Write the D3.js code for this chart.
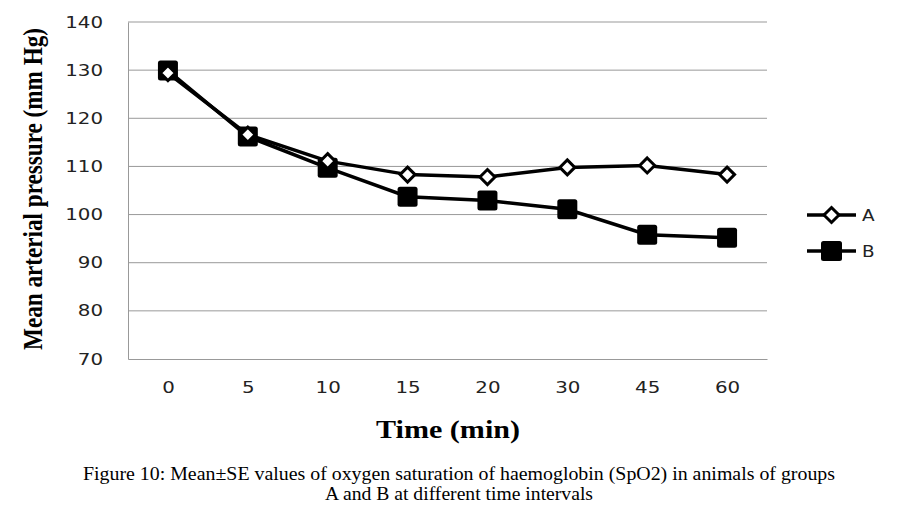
<!DOCTYPE html>
<html>
<head>
<meta charset="utf-8">
<script src="https://d3js.org/d3.v7.min.js"></script>
<style>
  body { margin: 0; background: #fff; }
  svg { display: block; }
</style>
</head>
<body>
<svg width="902" height="524"></svg>
<script>
// time points (min) and group means
var times = ["0", "5", "10", "15", "20", "30", "45", "60"];
var groupA = [129.4, 116.6, 111.1, 108.3, 107.8, 109.8, 110.2, 108.3];
var groupB = [129.9, 116.2, 109.7, 103.7, 102.9, 101.1, 95.8, 95.2];
var yTicks = [70, 80, 90, 100, 110, 120, 130, 140];

var svg = d3.select("svg"),
    margin = {left: 128, right: 135, top: 22, bottom: 165},
    width = 902 - margin.left - margin.right,
    height = 524 - margin.top - margin.bottom,
    g = svg.append("g").attr("transform", "translate(" + margin.left + "," + margin.top + ")");

var x = d3.scalePoint().domain(times).range([0, width]).padding(0.5);
var y = d3.scaleLinear().domain([70, 140]).range([height, 0]);

// the labels in the picture are a bit stretched sideways
function wideText(sel) {
  sel.attr("font-family", "DejaVu Sans, Verdana, sans-serif")
    .attr("font-size", 16).attr("fill", "#222")
    .attr("textLength", function() { return this.textContent.length * 12.6; })
    .attr("lengthAdjust", "spacingAndGlyphs");
}

// gridlines
g.append("g")
  .selectAll("line")
  .data(yTicks.slice(1))
  .enter().append("line")
    .attr("x1", 0).attr("x2", width)
    .attr("y1", function(d) { return y(d); })
    .attr("y2", function(d) { return y(d); })
    .attr("stroke", "#999").attr("stroke-width", 1);

// y axis
var yAxis = g.append("g")
  .call(d3.axisLeft(y).tickValues(yTicks).tickSize(0).tickPadding(25));
yAxis.select(".domain").attr("stroke", "#999");
yAxis.selectAll("text").call(wideText);

// x axis
var xAxis = g.append("g")
  .attr("transform", "translate(0," + height + ")")
  .call(d3.axisBottom(x).tickSize(0).tickPadding(23));
xAxis.select(".domain").attr("stroke", "#999");
xAxis.selectAll("text").call(wideText);

var line = d3.line()
  .x(function(d, i) { return x(times[i]); })
  .y(function(d) { return y(d); });

// series B (squares)
g.append("path").datum(groupB)
  .attr("d", line).attr("fill", "none")
  .attr("stroke", "#000").attr("stroke-width", 3.5);
g.append("g").selectAll("rect")
  .data(groupB)
  .enter().append("rect")
    .attr("x", function(d, i) { return x(times[i]) - 10; })
    .attr("y", function(d) { return y(d) - 10; })
    .attr("width", 20).attr("height", 20)
    .attr("rx", 2.5)
    .attr("fill", "#000");

// series A (diamonds)
g.append("path").datum(groupA)
  .attr("d", line).attr("fill", "none")
  .attr("stroke", "#000").attr("stroke-width", 3.5);
var diamond = "M0,-7.5L7.5,0L0,7.5L-7.5,0Z";
g.append("g").selectAll("path")
  .data(groupA)
  .enter().append("path")
    .attr("d", diamond)
    .attr("transform", function(d, i) { return "translate(" + x(times[i]) + "," + y(d) + ")"; })
    .attr("fill", "#fff").attr("stroke", "#000").attr("stroke-width", 3);

// legend
var legend = svg.append("g")
  .selectAll("g")
  .data(["A", "B"])
  .enter().append("g")
    .attr("transform", function(d, i) { return "translate(807," + (215 + i * 36) + ")"; });

legend.append("line")
  .attr("x1", 0).attr("x2", 49)
  .attr("stroke", "#000").attr("stroke-width", 3.5);
legend.filter(function(d) { return d === "A"; }).append("path")
  .attr("d", diamond).attr("transform", "translate(24.5,0)")
  .attr("fill", "#fff").attr("stroke", "#000").attr("stroke-width", 3);
legend.filter(function(d) { return d === "B"; }).append("rect")
  .attr("x", 14).attr("y", -10).attr("width", 21).attr("height", 20).attr("rx", 2.5)
  .attr("fill", "#000");
legend.append("text")
  .attr("x", 55).attr("dy", "0.35em")
  .text(function(d) { return d; })
  .call(wideText);

// axis titles - y title is squeezed with a scale so its box stays inside
var yTitle = svg.append("text")
  .attr("text-anchor", "middle")
  .attr("font-family", "Liberation Serif, Times New Roman, serif")
  .attr("font-weight", "bold").attr("font-size", 27)
  .text("Mean arterial pressure (mm Hg)");
var yTitleW = yTitle.node().getComputedTextLength();
yTitle.attr("transform", "translate(42,189)rotate(-90)scale(" + (322 / yTitleW) + ",1)");

svg.append("text")
  .attr("x", 448).attr("y", 438)
  .attr("text-anchor", "middle")
  .attr("font-family", "Liberation Serif, Times New Roman, serif")
  .attr("font-weight", "bold").attr("font-size", 25)
  .attr("textLength", 144).attr("lengthAdjust", "spacingAndGlyphs")
  .text("Time (min)");

// caption
svg.append("text")
  .attr("x", 459).attr("y", 480)
  .attr("text-anchor", "middle")
  .attr("font-family", "Liberation Serif, Times New Roman, serif")
  .attr("font-size", 18)
  .attr("textLength", 752).attr("lengthAdjust", "spacingAndGlyphs")
  .text("Figure 10:  Mean\u00b1SE values of oxygen saturation of haemoglobin (SpO2) in animals of groups");
svg.append("text")
  .attr("x", 459).attr("y", 500)
  .attr("text-anchor", "middle")
  .attr("font-family", "Liberation Serif, Times New Roman, serif")
  .attr("font-size", 18)
  .attr("textLength", 268).attr("lengthAdjust", "spacingAndGlyphs")
  .text("A and B at different time intervals");
</script>
</body>
</html>
